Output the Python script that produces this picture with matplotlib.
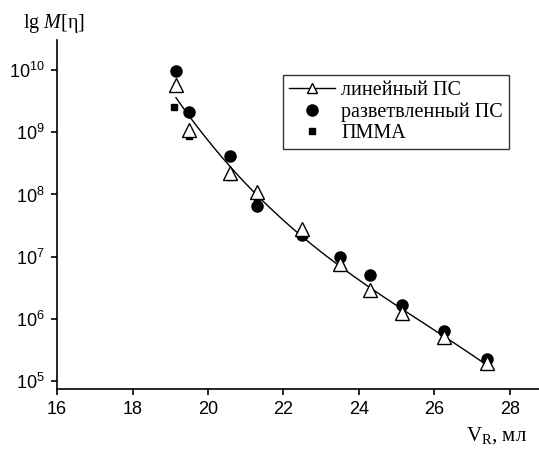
import numpy as np
import matplotlib
matplotlib.use("Agg")
import matplotlib.pyplot as plt
from matplotlib.ticker import FixedLocator, FuncFormatter, NullLocator

plt.rcParams['font.family'] = ['Liberation Sans', 'DejaVu Sans']
plt.rcParams['mathtext.fontset'] = 'custom'
plt.rcParams['mathtext.rm'] = 'Liberation Serif'
plt.rcParams['mathtext.it'] = 'Liberation Serif:italic'
plt.rcParams['mathtext.default'] = 'regular'

# линейный ПС
vr_lin = [19.15, 19.5, 20.58, 21.3, 22.48, 23.5, 24.28, 25.15, 26.25, 27.38]
m_lin = [5.8e9, 1.1e9, 2.2e8, 1.1e8, 2.8e7, 7.6e6, 2.9e6, 1.27e6, 5.1e5, 1.95e5]
# разветвленный ПС
vr_br = [19.15, 19.5, 20.58, 21.3, 22.48, 23.5, 24.28, 25.15, 26.25, 27.38]
m_br = [9.6e9, 2.1e9, 4.1e8, 6.6e7, 2.2e7, 1.0e7, 5.1e6, 1.7e6, 6.3e5, 2.3e5]
# ПММА
vr_pmma = [19.1, 19.5, 20.58, 21.3, 22.48, 23.5]
m_pmma = [2.5e9, 8.7e8, 1.9e8, 7.5e7, 2.5e7, 7.2e6]

xticks = [16, 18, 20, 22, 24, 26, 28]
yticks = [1e5, 1e6, 1e7, 1e8, 1e9, 1e10]

fig = plt.figure(figsize=(5.39, 4.5), dpi=100)
ax = fig.add_axes([0.1058, 0.1356, 0.8942, 0.7754])

# сглаженная кривая через точки линейного ПС
coef = np.polyfit(vr_lin, np.log10(m_lin), 3)
xx = np.linspace(vr_lin[0], vr_lin[-1], 200)
ax.plot(xx, 10 ** np.polyval(coef, xx), color='black', lw=1, zorder=2)

ax.plot(vr_br, m_br, 'o', color='black', ms=8, zorder=3)
ax.plot(vr_pmma, m_pmma, 's', color='black', ms=5, zorder=3)
ax.plot(vr_lin, m_lin, '^', mfc='white', mec='black', mew=1, ms=9.5, zorder=4)

# элементы легенды
h_lin, = ax.plot([], [], '-^', color='black', mfc='white', mec='black', lw=1, ms=7)
h_br, = ax.plot([], [], 'o', color='black', ms=8)
h_pm, = ax.plot([], [], 's', color='black', ms=5)
leg = ax.legend([h_lin, h_br, h_pm], ['линейный ПС', 'разветвленный ПС', 'ПММА'],
                loc='upper left', bbox_to_anchor=(0.469, 0.90), borderaxespad=0,
                frameon=True, fancybox=False, edgecolor='black',
                handlelength=2.3, handletextpad=0.3, borderpad=0.3,
                labelspacing=0.1, prop={'family': 'Liberation Serif', 'size': 14.5})
leg.get_frame().set_linewidth(1)

ax.set_yscale('log')
ax.set_xlim(16, 28.77)
ax.set_ylim(10 ** 4.876, 10 ** 10.48)
ax.xaxis.set_major_locator(FixedLocator(xticks))
ax.yaxis.set_major_locator(FixedLocator(yticks))
ax.yaxis.set_minor_locator(NullLocator())
ax.yaxis.set_major_formatter(FuncFormatter(lambda v, p: r'$10^{%d}$' % round(np.log10(v))))

for s in ['top', 'right']:
    ax.spines[s].set_visible(False)
for s in ['left', 'bottom']:
    ax.spines[s].set_linewidth(1.2)
ax.tick_params(direction='out', length=4, width=1.2, labelsize=13)
ax.tick_params(axis='x', pad=5)
ax.tick_params(axis='y', pad=5)

fig.text(0.043, 0.938, r'lg $\mathit{M}$[η]', family='Liberation Serif', fontsize=14.5)
fig.text(0.978, 0.022, r'V$_\mathregular{R}$, мл', family='Liberation Serif',
         fontsize=15, ha='right')

fig.savefig('out.png', dpi=100)
